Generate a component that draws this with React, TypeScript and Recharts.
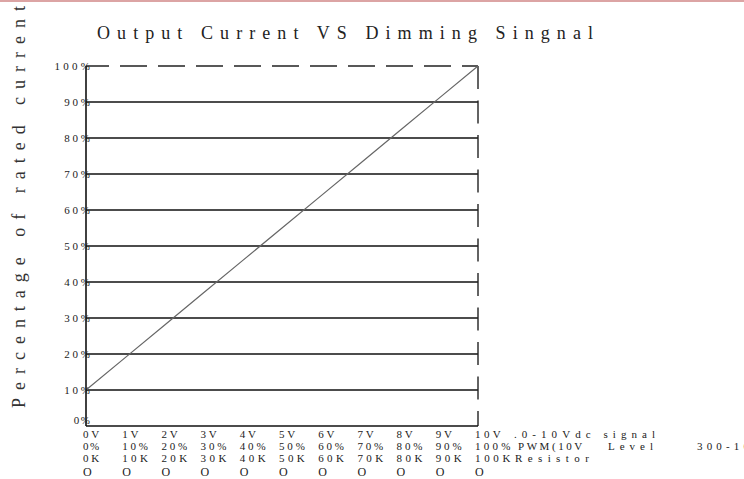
import React from 'react';
import { LineChart, Line, XAxis, YAxis, ReferenceLine } from 'recharts';

const signalValues = [0, 1, 2, 3, 4, 5, 6, 7, 8, 9, 10];
const outputPercent = [10, 19, 28, 37, 46, 55, 64, 73, 82, 91, 100];

const voltLabels = ['0V', '1V', '2V', '3V', '4V', '5V', '6V', '7V', '8V', '9V', '10V'];
const pwmLabels = ['0%', '10%', '20%', '30%', '40%', '50%', '60%', '70%', '80%', '90%', '100%'];
const resistorLabels = ['0K', '10K', '20K', '30K', '40K', '50K', '60K', '70K', '80K', '90K', '100K'];
const markLabels = ['O', 'O', 'O', 'O', 'O', 'O', 'O', 'O', 'O', 'O', 'O'];

const yTicks = [0, 10, 20, 30, 40, 50, 60, 70, 80, 90, 100];
const yTickLabels = ['0%', '10%', '20%', '30%', '40%', '50%', '60%', '70%', '80%', '90%', '100%'];
const solidGridValues = [10, 20, 30, 40, 50, 60, 70, 80, 90];

const titleText = 'Output Current VS Dimming Singnal';
const yAxisTitle = 'Percentage of rated current';
const voltSuffix = '.0-10Vdc signal';
const pwmSuffixParts = ['PWM(10V', 'Level', '300-10KHz)'];
const resistorSuffix = 'Resistor';

const data = signalValues.map((s, i) => ({ signal: s, output: outputPercent[i] }));

const SERIF = '"Liberation Serif", "DejaVu Serif", serif';
const small = { fontFamily: SERIF, fontSize: 11, fill: '#222' } as const;
const PITCH = 9.6;

const T = ({ x, y, s, size = 11 }: { x: number; y: number; s: string; size?: number }) => (
  <text x={x} y={y} {...small} fontSize={size} textLength={s.length * PITCH - 3} lengthAdjust="spacing">
    {s}
  </text>
);

const XTick = (props: any) => {
  const { x, index } = props;
  const y = 426;
  const tx = x - 3;
  return (
    <g>
      <T x={tx} y={y + 12} s={voltLabels[index]} />
      <T x={tx} y={y + 24} s={pwmLabels[index]} />
      <T x={tx} y={y + 36} s={resistorLabels[index]} />
      <T x={tx} y={y + 50} s={markLabels[index]} size={12} />
      {index === voltLabels.length - 1 && (
        <g>
          <T x={x + 36} y={y + 12} s={voltSuffix} />
          <T x={x + 40} y={y + 24} s={pwmSuffixParts[0]} />
          <T x={x + 130} y={y + 24} s={pwmSuffixParts[1]} />
          <T x={x + 219} y={y + 24} s={pwmSuffixParts[2]} />
          <T x={x + 37} y={y + 36} s={resistorSuffix} />
        </g>
      )}
    </g>
  );
};

const YTick = (props: any) => {
  const { y, index } = props;
  const s = yTickLabels[index];
  const w = s.length * PITCH - 3;
  const dy = index === 0 ? -2 : 4;
  return <T x={90 - w} y={y + dy} s={s} />;
};

export default function App() {
  return (
    <div style={{ position: 'absolute', left: 0, top: 0, width: 744, height: 479, overflow: 'hidden', background: '#fff' }}>
      <div style={{ position: 'absolute', left: 0, top: 0, width: 744, height: 2, background: '#dca4a4' }} />
      <LineChart
        width={744}
        height={479}
        data={data}
        margin={{ top: 66, right: 266, bottom: 52, left: 85 }}
      >
        <XAxis
          dataKey="signal"
          type="number"
          domain={[0, 10]}
          ticks={signalValues}
          height={1}
          tickLine={false}
          axisLine={{ stroke: '#111', strokeWidth: 1.6 }}
          tick={<XTick />}
          interval={0}
        />
        <YAxis
          type="number"
          domain={[0, 100]}
          ticks={yTicks}
          width={1}
          tickLine={false}
          axisLine={{ stroke: '#111', strokeWidth: 1.6 }}
          tick={<YTick />}
          interval={0}
        />
        {solidGridValues.map((v) => (
          <ReferenceLine key={v} y={v} stroke="#111" strokeWidth={1.4} />
        ))}
        <ReferenceLine
          segment={[{ x: 0, y: 100 }, { x: 10, y: 100 }]}
          stroke="#222"
          strokeWidth={1.4}
          strokeDasharray="27 11"
          strokeDashoffset={4}
        />
        <ReferenceLine
          segment={[{ x: 10, y: 100 }, { x: 10, y: 0 }]}
          stroke="#222"
          strokeWidth={1.4}
          strokeDasharray="23 11.5"
        />
        <Line
          dataKey="output"
          stroke="#666"
          strokeWidth={1.2}
          dot={false}
          isAnimationActive={false}
        />
        <text x={97} y={39} fontFamily={SERIF} fontSize={18} fill="#222" textLength={496} lengthAdjust="spacing">
          {titleText}
        </text>
        <text
          x={25}
          y={408}
          transform="rotate(-90 25 408)"
          fontFamily={SERIF}
          fontSize={18}
          fill="#333"
          textLength={402}
          lengthAdjust="spacing"
        >
          {yAxisTitle}
        </text>
      </LineChart>
    </div>
  );
}
